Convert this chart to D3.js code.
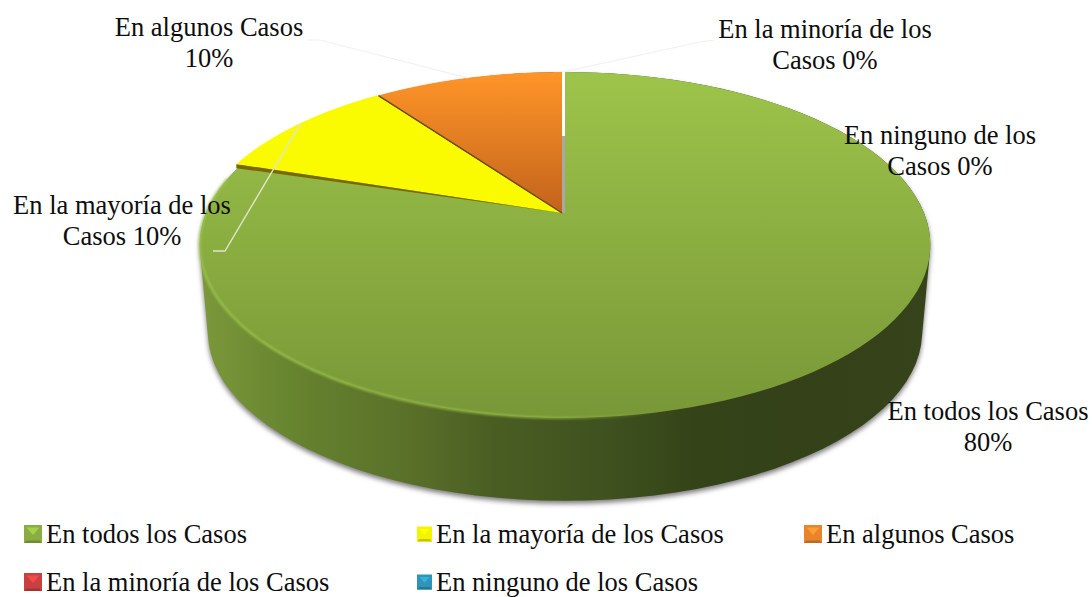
<!DOCTYPE html>
<html>
<head>
<meta charset="utf-8">
<script src="https://cdn.jsdelivr.net/npm/d3@7"></script>
<style>
  html, body { margin: 0; padding: 0; background: #fff; }
  svg { display: block; }
  text { font-family: "Liberation Serif", serif; font-size: 26.5px; fill: #0d0d0d; }
</style>
</head>
<body>
<svg id="chart" width="1092" height="597"></svg>
<script>
// Survey answers and their shares, in percent
const categories = [
  "En todos los Casos",
  "En la mayoría de los Casos",
  "En algunos Casos",
  "En la minoría de los Casos",
  "En ninguno de los Casos"
];
const shares = [80, 10, 10, 0, 0];
const swatchColors = ["#8aad41", "#f4f400", "#e8842a", "#c8403f", "#2f94b8"];

// Slice labels, one row per line of text
const labelLines = [
  ["En todos los Casos", "80%"],
  ["En la mayoría de los", "Casos 10%"],
  ["En algunos Casos", "10%"],
  ["En la minoría de los", "Casos 0%"],
  ["En ninguno de los", "Casos 0%"]
];
const labelAnchors = [[988, 420], [122, 214], [209, 36], [825, 38], [940, 144]];
const labelLeading = 31;

const svg = d3.select("#chart");
const defs = svg.append("defs");

// Perspective of the tilted disc: k bends the near edge towards the viewer
const k = 0.185;
const topDisc = { cx: 565, cy: 213, rx: 359, ry: 167 };
const baseDisc = { cx: 565, cy: 300.5, rx: 351, ry: 163.3 };
const yellowDisc = { ...topDisc, rx: 362 };

function project(theta, disc, dx = 0) {
  const u = Math.sin(theta), v = -Math.cos(theta);
  const d = 1 - k * v;
  return [disc.cx + dx + disc.rx * u / d, disc.cy + disc.ry * v / d];
}
function arcPoints(a0, a1, disc, dx = 0) {
  return d3.range(0, 121).map(i => project(a0 + (a1 - a0) * i / 120, disc, dx));
}

const arcs = d3.pie().sort(null).value(d => d).startAngle(0).endAngle(2 * Math.PI)(shares);
const outline = d3.line();
const closed = pts => outline(pts) + "Z";

// Gradients
function linear(id, attrs, stops) {
  const g = defs.append("linearGradient").attr("id", id).attr("gradientUnits", "userSpaceOnUse");
  Object.entries(attrs).forEach(([a, v]) => g.attr(a, v));
  stops.forEach(([o, c, op]) => {
    const s = g.append("stop").attr("offset", o).attr("stop-color", c);
    if (op !== undefined) s.attr("stop-opacity", op);
  });
}
linear("faceGreen", { x1: 0, y1: 72, x2: 0, y2: 418 }, [[0, "#9dc44a"], [1, "#789737"]]);
linear("faceOrange", { x1: 0, y1: 72, x2: 0, y2: 213 }, [[0, "#ff9528"], [1, "#c2631c"]]);
linear("wallGreen", { x1: 200, y1: 0, x2: 931, y2: 0 }, [
  [0, "#7b993a"], [0.13, "#66832f"], [0.28, "#5a7129"], [0.4, "#4a5e23"],
  [0.55, "#3f521f"], [0.68, "#344318"], [0.85, "#344119"], [1, "#37441a"]
]);
linear("rim", { x1: 200, y1: 0, x2: 660, y2: 0 }, [
  [0, "#a3cc50", 0.85], [0.75, "#9cc44c", 0.8], [1, "#9cc44c", 0]
]);
defs.append("filter").attr("id", "soft").attr("x", "-5%").attr("y", "-5%")
  .attr("width", "110%").attr("height", "110%")
  .append("feGaussianBlur").attr("stdDeviation", 2.5);
defs.append("filter").attr("id", "rimBlur").attr("x", "-5%").attr("y", "-5%")
  .attr("width", "110%").attr("height", "110%")
  .append("feGaussianBlur").attr("stdDeviation", 0.8);

// Side wall and its soft ground shadow
const wallHull = d3.polygonHull(
  arcPoints(0, 2 * Math.PI, topDisc).concat(arcPoints(0, 2 * Math.PI, baseDisc))
);
svg.append("path").attr("d", closed(wallHull))
  .attr("transform", "translate(0,3)")
  .attr("fill", "#7d7d7d").attr("filter", "url(#soft)");
svg.append("path").attr("d", closed(wallHull)).attr("fill", "url(#wallGreen)");

// Open gap between the exploded slices, with the zero shares' wall at its foot
svg.append("rect").attr("x", 562).attr("y", 70).attr("width", 3).attr("height", 66).attr("fill", "#ffffff");
svg.append("rect").attr("x", 562).attr("y", 136).attr("width", 3).attr("height", 77).attr("fill", "#a8a8a8");

// Top faces of the slices
const faceFill = ["url(#faceGreen)", "#fbfb00", "url(#faceOrange)"];
const faceShift = [0, -3, -3];
const faceDisc = [topDisc, yellowDisc, topDisc];
const apex = dx => [topDisc.cx + dx, topDisc.cy];

arcs.forEach((a, i) => {
  if (a.value === 0) return;
  const dx = faceShift[i];
  const pts = [apex(dx)].concat(arcPoints(a.startAngle, a.endAngle, faceDisc[i], dx));
  svg.append("path").attr("class", "slice").attr("d", closed(pts)).attr("fill", faceFill[i]);
});

// Thin cut walls between the slices
const cutYellow = project(arcs[1].startAngle, yellowDisc, faceShift[1]);
svg.append("path")
  .attr("d", closed([apex(-3), cutYellow, [cutYellow[0], cutYellow[1] + 4]]))
  .attr("fill", "#7a6808");
const cutOrange = project(arcs[2].startAngle, topDisc, faceShift[2]);
svg.append("path")
  .attr("d", outline([apex(-3), cutOrange]))
  .attr("stroke", "#6e4712").attr("stroke-width", 1.4).attr("fill", "none");

// Highlight along the near edge of the disc
svg.append("path")
  .attr("d", outline(arcPoints(arcs[0].endAngle - 0.1, Math.PI * 0.8, topDisc)))
  .attr("fill", "none").attr("stroke", "url(#rim)").attr("stroke-width", 2)
  .attr("filter", "url(#rimBlur)");

// Leader lines from the slice middles to their labels
const mid = a => (a.startAngle + a.endAngle) / 2;
const leaders = [
  { i: 1, via: [[225, 251], [213, 251]], color: "#dfe5cc", w: 1.4 },
  { i: 2, via: [[320, 40], [308, 40]], color: "#f1f1f1", w: 1.2 },
  { i: 3, via: [[700, 42], [714, 40]], color: "#f1f1f1", w: 1.2 }
];
leaders.forEach(l => {
  const start = project(mid(arcs[l.i]), topDisc, -3);
  svg.append("path").attr("d", outline([start].concat(l.via)))
    .attr("fill", "none").attr("stroke", l.color).attr("stroke-width", l.w);
});

// Slice labels
labelLines.forEach((lines, i) => {
  const [x, y] = labelAnchors[i];
  lines.forEach((line, j) => {
    svg.append("text").attr("x", x).attr("y", y + j * labelLeading)
      .attr("text-anchor", "middle").text(line);
  });
});

// Legend with bevelled swatches; the second row sits just clear of the page edge
const legendCols = d3.scaleOrdinal().domain([0, 1, 2]).range([46, 436, 826]);
const legendRows = d3.scaleOrdinal().domain([0, 1]).range([543, 591]);
const swatchSizes = [18, 15, 18, 18, 15];

categories.forEach((name, i) => {
  const col = i % 3, row = Math.floor(i / 3);
  const tx = legendCols(col), ty = legendRows(row);
  const s = swatchSizes[i];
  const x0 = tx - 4 - s, y0 = ty - 9 - s / 2, b = 2.5;
  const base = d3.color(swatchColors[i]);
  const g = svg.append("g").attr("class", "legend-swatch");
  g.append("rect").attr("x", x0).attr("y", y0).attr("width", s).attr("height", s)
    .attr("fill", base.formatHex());
  // bevel: lit top wedge, dark bottom rim
  g.append("path").attr("d", closed([
    [x0 + b, y0 + b], [x0 + s - b, y0 + b], [x0 + s / 2, y0 + s * 0.55]
  ])).attr("fill", base.brighter(0.5).formatHex());
  g.append("path").attr("d", closed([
    [x0, y0 + s], [x0 + s, y0 + s], [x0 + s - b, y0 + s - b], [x0 + b, y0 + s - b]
  ])).attr("fill", base.darker(0.6).formatHex());
  svg.append("text").attr("x", tx).attr("y", ty).text(name);
});
</script>
</body>
</html>
